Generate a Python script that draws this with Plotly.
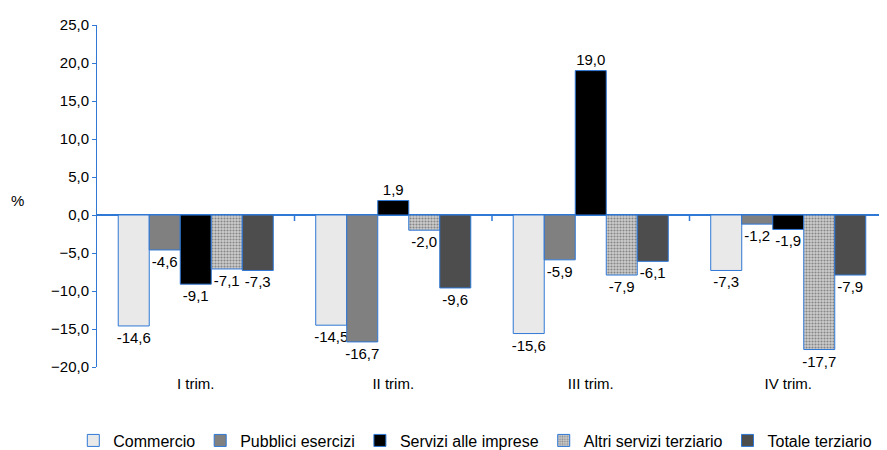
import plotly.graph_objects as go

categories = ["I trim.", "II trim.", "III trim.", "IV trim."]
commercio = [-14.6, -14.5, -15.6, -7.3]
pubblici = [-4.6, -16.7, -5.9, -1.2]
servizi_imprese = [-9.1, 1.9, 19.0, -1.9]
altri_servizi = [-7.1, -2.0, -7.9, -17.7]
totale = [-7.3, -9.6, -6.1, -7.9]

blue = "#2f78d6"
font = "Liberation Sans, Arial, sans-serif"

series = [
    ("Commercio", commercio, dict(color="#e9e9e9")),
    ("Pubblici esercizi", pubblici, dict(color="#808080")),
    ("Servizi alle imprese", servizi_imprese, dict(color="#000000")),
    ("Altri servizi terziario", altri_servizi,
     dict(color="#c8c8c8", pattern=dict(shape=".", fgcolor="#404040",
                                        bgcolor="#cccccc", size=3, solidity=0.4))),
    ("Totale terziario", totale, dict(color="#4d4d4d")),
]

fig = go.Figure()
for name, vals, mk in series:
    mk = dict(mk)
    mk["line"] = dict(color=blue, width=1)
    fig.add_trace(go.Bar(
        name=name, x=categories, y=vals, marker=mk,
        texttemplate="%{y:.1f}", textposition="outside",
        textfont=dict(family=font, size=15, color="#000000"),
        constraintext="none", cliponaxis=False,
    ))

# small ticks on the zero line between the quarter groups
for i in range(len(categories) - 1):
    fig.add_shape(type="line", xref="x", yref="y", x0=i + 0.5, x1=i + 0.5,
                  ysizemode="pixel", yanchor=0, y0=0, y1=-6,
                  line=dict(color=blue, width=1.5))

# page body adds an 8px offset, so the margins are shifted to compensate
fig.update_layout(
    barmode="group",
    bargap=0.215,
    bargroupgap=0,
    separators=",.",
    width=887, height=458,
    margin=dict(l=89, r=8, t=15, b=99),
    plot_bgcolor="white", paper_bgcolor="white",
    font=dict(family=font, size=15, color="#000000"),
    showlegend=True,
    legend=dict(orientation="h", x=-0.03, xanchor="left", y=-0.215, yanchor="middle",
                font=dict(size=16), itemwidth=30, tracegroupgap=0),
    annotations=[dict(text="%", x=-0.112, xref="paper", y=1.9, yref="y",
                      showarrow=False, font=dict(size=15))],
)
fig.update_yaxes(
    range=[-20, 25], dtick=5, tickformat=".1f",
    showgrid=False, showline=True, linecolor=blue, linewidth=1,
    ticks="outside", ticklen=4, tickcolor=blue,
    zeroline=True, zerolinecolor=blue, zerolinewidth=1.5,
    tickfont=dict(size=15),
)
fig.update_xaxes(
    showgrid=False, showline=False, ticks="",
    tickfont=dict(size=15), ticklabelstandoff=6,
)

fig.write_html("out.html")
